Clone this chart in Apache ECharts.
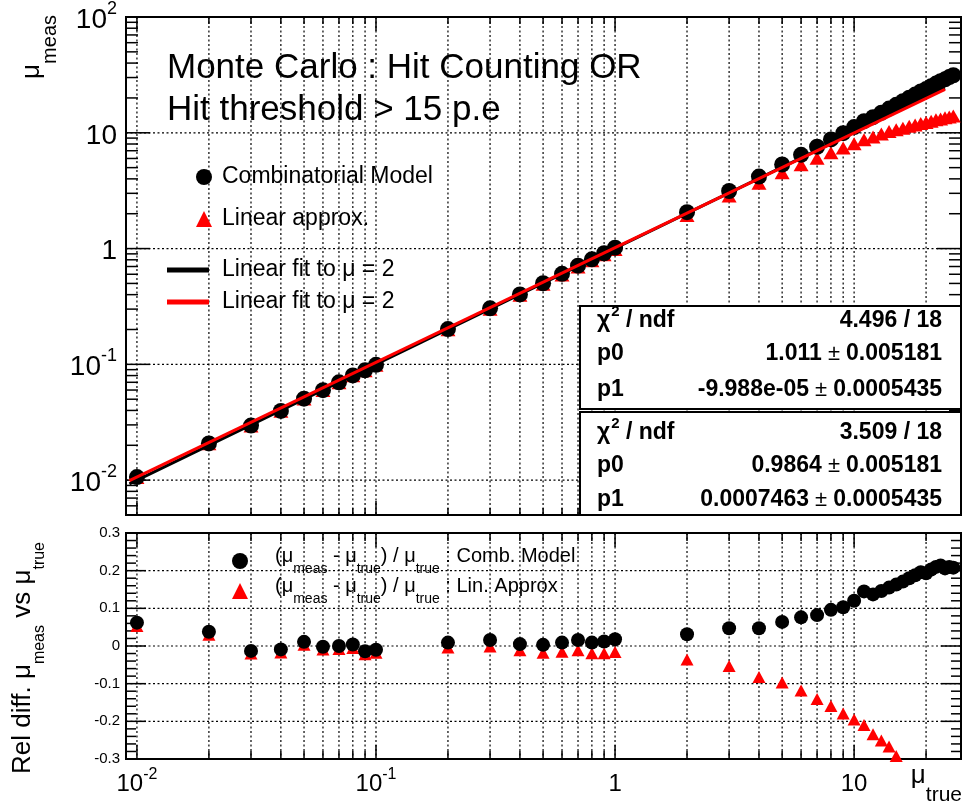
<!DOCTYPE html>
<html>
<head>
<meta charset="utf-8">
<script src="https://cdn.jsdelivr.net/npm/echarts@6/dist/echarts.min.js"></script>
<style>html,body{margin:0;padding:0;background:#fff}#c{width:963px;height:807px}</style>
</head>
<body>
<div id="c"></div>
<script>
// ---------------- data ----------------
const muTrue = [0.01,0.02,0.03,0.04,0.05,0.06,0.07,0.08,0.09,0.1,
  0.2,0.3,0.4,0.5,0.6,0.7,0.8,0.9,1,
  2,3,4,5,6,7,8,9,10,
  11,12,13,14,15,16,17,18,19,20,21,22,23,24,25,26];
const muMeasComb = [0.01062,0.02076,0.02961,0.03964,0.05055,0.05988,0.0700,0.08032,0.08874,0.0990,
  0.2018,0.3048,0.4020,0.5015,0.6054,0.7112,0.8072,0.9108,1.018,
  2.062,3.141,4.188,5.320,6.456,7.574,8.768,9.927,11.20,
  12.60,13.64,14.90,16.17,17.45,18.74,20.06,21.38,22.72,23.86,25.26,26.62,27.92,28.94,30.25,31.41];
const muMeasLin = [0.01053,0.0206,0.0294,0.03932,0.05015,0.05946,0.06944,0.0796,0.08802,0.0982,
  0.1992,0.2997,0.3956,0.4910,0.5910,0.6923,0.7848,0.8829,0.984,
  1.928,2.841,3.672,4.515,5.292,6.013,6.728,7.389,8.05,
  8.69,9.19,9.74,10.26,10.62,10.94,11.41,11.65,12.05,12.24,12.60,12.96,13.16,13.49,13.70,13.96];
const relComb = [0.062,0.038,-0.013,-0.009,0.011,-0.002,0.000,0.004,-0.014,-0.010,
  0.009,0.016,0.005,0.003,0.009,0.016,0.009,0.012,0.018,
  0.031,0.047,0.047,0.064,0.076,0.082,0.096,0.103,0.120,
  0.145,0.137,0.146,0.155,0.163,0.171,0.180,0.188,0.196,0.193,0.203,0.210,0.214,0.206,0.210,0.208];
const relLin = [0.053,0.030,-0.020,-0.017,0.003,-0.009,-0.008,-0.005,-0.022,-0.018,
  -0.004,-0.001,-0.011,-0.018,-0.015,-0.011,-0.019,-0.019,-0.016,
  -0.036,-0.053,-0.082,-0.097,-0.118,-0.141,-0.159,-0.179,-0.195,
  -0.210,-0.234,-0.251,-0.267,-0.292,-0.316,-0.329,-0.353,-0.366,-0.388,-0.400,-0.411,-0.428,-0.438,-0.452,-0.463];
const fitX = [0.0093, 24];
const fitCombY = [0.0093, 24.26];
const fitLinY = [0.0099, 23.68];

const xTickLabels = [0.01, 0.1, 1, 10];
const yTopTickLabels = [0.01, 0.1, 1, 10, 100];
const yBotTickLabels = [-0.3, -0.2, -0.1, 0, 0.1, 0.2, 0.3];
const xMajorTicks = [0.01, 0.1, 1, 10];
const xMinorTicks = [0.02,0.03,0.04,0.05,0.06,0.07,0.08,0.09,0.2,0.3,0.4,0.5,0.6,0.7,0.8,0.9,2,3,4,5,6,7,8,9,20];
const xGridLines = [0.01,0.02,0.03,0.04,0.05,0.06,0.07,0.08,0.09,0.1,0.2,0.3,0.4,0.5,0.6,0.7,0.8,0.9,1,2,3,4,5,6,7,8,9,10,20];
const yTopMajorTicks = [0.01, 0.1, 1, 10, 100];
const yTopMinorTicks = [0.006,0.007,0.008,0.009,0.02,0.03,0.04,0.05,0.06,0.07,0.08,0.09,0.2,0.3,0.4,0.5,0.6,0.7,0.8,0.9,2,3,4,5,6,7,8,9,20,30,40,50,60,70,80,90];
const yTopGridLines = [0.01, 0.1, 1, 10];
const yBotMajorTicks = [-0.3,-0.2,-0.1,0,0.1,0.2,0.3];
const yBotMinorTicks = [-0.28,-0.26,-0.24,-0.22,-0.18,-0.16,-0.14,-0.12,-0.08,-0.06,-0.04,-0.02,0.02,0.04,0.06,0.08,0.12,0.14,0.16,0.18,0.22,0.24,0.26,0.28];
const yBotGridLines = [-0.2,-0.1,0,0.1,0.2];

const titleLines = ['Monte Carlo : Hit Counting OR', 'Hit threshold > 15 p.e'];
const statLabels = ['χ2 / ndf', 'p0', 'p1'];
const statsComb = ['4.496 / 18', '1.011 ± 0.005181', '-9.988e-05 ± 0.0005435'];
const statsLin = ['3.509 / 18', '0.9864 ± 0.005181', '0.0007463 ± 0.0005435'];

// ---------------- chart ----------------
const FONT = "'Liberation Sans', Arial, Helvetica, sans-serif";
const chart = echarts.init(document.getElementById('c'), null, {renderer: 'canvas'});

function pair(xs, ys) { return xs.map((x, i) => [x, ys[i]]); }

function makeDecor(cfg) {
  return function (params, api) {
    const cs = params.coordSys;
    const L = cs.x, R = cs.x + cs.width, T = cs.y, B = cs.y + cs.height;
    const kids = [];
    const dotted = {stroke: '#000', lineWidth: 1.2, lineDash: [2, 2.5]};
    const solid = {stroke: '#000', lineWidth: 1.5};
    const X = v => api.coord([v, cfg.yRef])[0];
    const Y = v => api.coord([cfg.xRef, v])[1];
    const seg = (x1, y1, x2, y2, st) => kids.push({type: 'line', shape: {x1, y1, x2, y2}, style: st, silent: true});
    cfg.gridX.forEach(v => { const p = X(v); seg(p, T, p, B, dotted); });
    cfg.gridY.forEach(v => { const p = Y(v); seg(L, p, R, p, dotted); });
    const xt = (list, len) => list.forEach(v => { const p = X(v); seg(p, B, p, B - len, solid); seg(p, T, p, T + len, solid); });
    const yt = (list, len) => list.forEach(v => { const p = Y(v); seg(L, p, L + len, p, solid); seg(R, p, R - len, p, solid); });
    xt(cfg.xMajor, cfg.xMajLen); xt(cfg.xMinor, cfg.xMinLen);
    yt(cfg.yMajor, cfg.yMajLen); yt(cfg.yMinor, cfg.yMinLen);
    return {type: 'group', children: kids};
  };
}

function isDecade(v) { const l = Math.log10(v); return Math.abs(l - Math.round(l)) < 1e-6; }
function powLabel(v) {
  if (!isDecade(v)) return '';
  const e = Math.round(Math.log10(v));
  if (e === 0) return '{n|1}';
  if (e === 1) return '{n|10}';
  return '{b|10}{s|' + e + '}';
}

const nameMap = {comb: 'Combinatorial Model', lin: 'Linear approx.', fitComb: 'Linear fit to μ = 2', fitLin: 'Linear fit to μ = 2'};
function topLegend(name, left, top, w, h, icon) {
  return {
    data: [icon ? {name: name, icon: icon} : name], left: left, top: top, padding: 0,
    itemWidth: w, itemHeight: h, selectedMode: false,
    formatter: n => '{sp| }' + nameMap[n],
    textStyle: {fontSize: 23, color: '#000', fontFamily: FONT, rich: {sp: {width: 222 - left - w - 5}}}
  };
}
function botLegend(name, tail, left, top) {
  return {
    data: [name], left: left, top: top, padding: 0, itemWidth: 16, itemHeight: 16, selectedMode: false,
    formatter: () => '{sp| }{p|(μ}{s|meas}{p| - μ}{s|true}{p|) / μ}{s|true}{p| : ' + tail + '}',
    textStyle: {color: '#000', fontFamily: FONT, fontSize: 20, rich: {
      sp: {width: 275 - left - 16 - 5, fontSize: 20, verticalAlign: 'top'},
      p: {fontSize: 20, fontFamily: FONT, verticalAlign: 'top'},
      s: {fontSize: 14, fontFamily: FONT, verticalAlign: 'top', padding: [16, 0, 0, 0]}
    }}
  };
}

function statText(v) {
  const parts = v.split('±');
  if (parts.length === 1) return '{b|' + v + '}';
  return '{b|' + parts[0].trim() + '}{pm| ± }{b|' + parts[1].trim() + '}';
}
const statRich = {
  b: {fontSize: 23, fontWeight: 'bold', fontFamily: FONT},
  pm: {fontSize: 22, fontWeight: 'normal', fontFamily: FONT},
  c: {fontSize: 23, fontWeight: 'bold', fontFamily: FONT, verticalAlign: 'top', padding: [6, 0, 0, 0]},
  s: {fontSize: 15, fontWeight: 'bold', fontFamily: FONT, verticalAlign: 'top', padding: [1, 0, 0, 1]}
};
function statBox(y0, rows, values) {
  const els = [{type: 'rect', z: 100, shape: {x: 580, y: y0, width: 381, height: 103},
    style: {fill: '#fff', stroke: '#000', lineWidth: 2}}];
  statLabels.forEach((lab, i) => {
    const txt = i === 0 ? '{c|χ}{s|2}{c| / ndf}' : '{b|' + lab + '}';
    els.push({type: 'text', z: 101, x: 597, y: rows[i] - (i === 0 ? 3 : 0),
      style: {text: txt, rich: statRich, fill: '#000', align: 'left', verticalAlign: 'middle'}});
    els.push({type: 'text', z: 101, x: 942, y: rows[i],
      style: {text: statText(values[i]), rich: statRich, fill: '#000', align: 'right', verticalAlign: 'middle'}});
  });
  return els;
}

const graphics = [].concat(
  statBox(306, [321, 354, 390], statsComb),
  statBox(412, [433, 466, 500], statsLin),
  [
    {type: 'text', z: 100, x: 39.5, y: 15, rotation: Math.PI / 2,
      style: {text: '{m|μ}{s|meas}', fill: '#000', align: 'right', verticalAlign: 'middle', rich: {
        m: {fontSize: 26, fontFamily: FONT, verticalAlign: 'top'},
        s: {fontSize: 20, fontFamily: FONT, verticalAlign: 'top', padding: [22, 0, 0, 0]}}}},
    {type: 'text', z: 100, x: 28.7, y: 774, rotation: Math.PI / 2,
      style: {text: '{m|Rel diff. μ}{s|meas}{m| vs μ}{s|true}', fill: '#000', align: 'left', verticalAlign: 'middle', rich: {
        m: {fontSize: 26, fontFamily: FONT, verticalAlign: 'top'},
        s: {fontSize: 16, fontFamily: FONT, verticalAlign: 'top', padding: [21, 0, 0, 0]}}}},
    {type: 'text', z: 100, x: 962, y: 763,
      style: {text: '{m|μ}{s|true}', fill: '#000', align: 'right', verticalAlign: 'top', rich: {
        m: {fontSize: 26, fontFamily: FONT, verticalAlign: 'top'},
        s: {fontSize: 21, fontFamily: FONT, verticalAlign: 'top', padding: [22, 0, 0, 0]}}}}
  ]
);

const option = {
  animation: false,
  backgroundColor: '#fff',
  textStyle: {fontFamily: FONT, color: '#000'},
  title: {
    text: titleLines.join('\n'), left: 167, top: 47, padding: 0,
    textStyle: {fontSize: 35, fontWeight: 'normal', lineHeight: 42, color: '#000', fontFamily: FONT}
  },
  grid: [
    {left: 126, top: 16, width: 835, height: 499, show: true, borderColor: '#000', borderWidth: 2, backgroundColor: 'transparent'},
    {left: 126, top: 533, width: 835, height: 226, show: true, borderColor: '#000', borderWidth: 2, backgroundColor: 'transparent'}
  ],
  xAxis: [
    {gridIndex: 0, type: 'log', logBase: 10, min: 0.009, max: 28,
      axisLine: {show: false}, axisTick: {show: false}, axisLabel: {show: false}, splitLine: {show: false}},
    {gridIndex: 1, type: 'log', logBase: 10, min: 0.009, max: 28,
      axisLine: {show: false}, axisTick: {show: false}, splitLine: {show: false},
      axisLabel: {show: true, customValues: xTickLabels, formatter: powLabel, margin: 8, color: '#000',
        rich: {
          n: {fontSize: 24, fontFamily: FONT, verticalAlign: 'top', padding: [5, 0, 0, 0]},
          b: {fontSize: 24, fontFamily: FONT, verticalAlign: 'top', padding: [5, 0, 0, 0]},
          s: {fontSize: 16, fontFamily: FONT, verticalAlign: 'top'}
        }}}
  ],
  yAxis: [
    {gridIndex: 0, type: 'log', logBase: 10, min: 0.005, max: 100,
      axisLine: {show: false}, axisTick: {show: false}, splitLine: {show: false},
      axisLabel: {show: true, customValues: yTopTickLabels, formatter: powLabel, margin: 9, color: '#000',
        rich: {
          n: {fontSize: 28, fontFamily: FONT, verticalAlign: 'top', padding: [6, 0, 0, 0]},
          b: {fontSize: 28, fontFamily: FONT, verticalAlign: 'top', padding: [6, 0, 0, 0]},
          s: {fontSize: 18, fontFamily: FONT, verticalAlign: 'top'}
        }}},
    {gridIndex: 1, type: 'value', min: -0.3, max: 0.3, interval: 0.1,
      axisLine: {show: false}, axisTick: {show: false}, splitLine: {show: false},
      axisLabel: {show: true, customValues: yBotTickLabels, margin: 6, fontSize: 15, color: '#000', fontFamily: FONT,
        formatter: v => { const r = Math.round(v * 10) / 10; return r === 0 ? '0' : String(r); }}}
  ],
  legend: [
    topLegend('comb', 196, 165.5, 16, 16),
    topLegend('lin', 196, 207.5, 16, 16),
    topLegend('fitComb', 167, 258.5, 42, 5, 'rect'),
    topLegend('fitLin', 167, 290.5, 42, 5, 'rect'),
    botLegend('relComb', 'Comb. Model', 232, 546),
    botLegend('relLin', 'Lin. Approx', 232, 576)
  ],
  graphic: {elements: graphics},
  series: [
    {name: 'decorTop', type: 'custom', xAxisIndex: 0, yAxisIndex: 0, silent: true, z: 1, data: [[1, 1]],
      renderItem: makeDecor({xRef: 1, yRef: 1, gridX: xGridLines, gridY: yTopGridLines,
        xMajor: xMajorTicks, xMinor: xMinorTicks, yMajor: yTopMajorTicks, yMinor: yTopMinorTicks,
        xMajLen: 14, xMinLen: 7, yMajLen: 24, yMinLen: 12})},
    {name: 'decorBot', type: 'custom', xAxisIndex: 1, yAxisIndex: 1, silent: true, z: 1, data: [[1, 0]],
      renderItem: makeDecor({xRef: 1, yRef: 0, gridX: xGridLines, gridY: yBotGridLines,
        xMajor: xMajorTicks, xMinor: xMinorTicks, yMajor: yBotMajorTicks, yMinor: yBotMinorTicks,
        xMajLen: 14, xMinLen: 8, yMajLen: 20, yMinLen: 10})},
    {name: 'lin', type: 'scatter', xAxisIndex: 0, yAxisIndex: 0, z: 2, symbol: 'triangle', symbolSize: [15, 13],
      itemStyle: {color: '#ff0000', opacity: 1}, data: pair(muTrue, muMeasLin)},
    {name: 'comb', type: 'scatter', xAxisIndex: 0, yAxisIndex: 0, z: 3, symbol: 'circle', symbolSize: 16,
      itemStyle: {color: '#000', opacity: 1}, data: pair(muTrue, muMeasComb)},
    {name: 'fitComb', type: 'line', xAxisIndex: 0, yAxisIndex: 0, z: 4, symbol: 'none', showSymbol: false,
      lineStyle: {color: '#000', width: 3}, itemStyle: {color: '#000'}, data: pair(fitX, fitCombY)},
    {name: 'fitLin', type: 'line', xAxisIndex: 0, yAxisIndex: 0, z: 5, symbol: 'none', showSymbol: false,
      lineStyle: {color: '#ff0000', width: 3}, itemStyle: {color: '#ff0000'}, data: pair(fitX, fitLinY)},
    {name: 'relLin', type: 'scatter', xAxisIndex: 1, yAxisIndex: 1, z: 2, symbol: 'triangle', symbolSize: [13, 12],
      clip: true, itemStyle: {color: '#ff0000', opacity: 1}, data: pair(muTrue, relLin)},
    {name: 'relComb', type: 'scatter', xAxisIndex: 1, yAxisIndex: 1, z: 3, symbol: 'circle', symbolSize: 14,
      clip: true, itemStyle: {color: '#000', opacity: 1}, data: pair(muTrue, relComb)}
  ]
};
chart.setOption(option);
</script>
</body>
</html>
